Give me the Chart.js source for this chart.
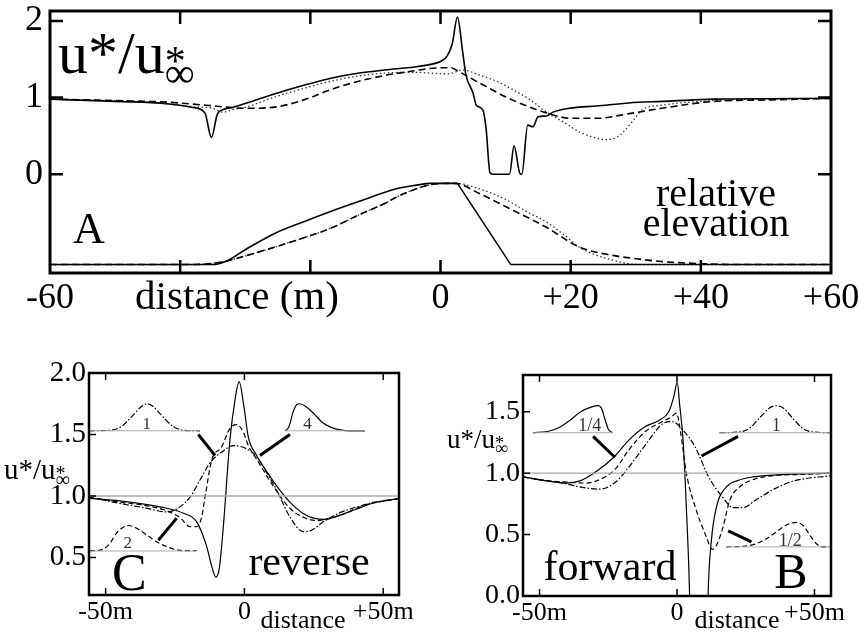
<!DOCTYPE html>
<html>
<head>
<meta charset="utf-8">
<script src="https://cdn.jsdelivr.net/npm/chart.js@4.4.0/dist/chart.umd.min.js"></script>
<style>
  body { margin: 0; background: #fff; width: 860px; height: 633px; overflow: hidden; position: relative; }
  canvas { position: absolute; }
</style>
</head>
<body>
<canvas id="chartA" width="860" height="335" style="left:0;top:0"></canvas>
<canvas id="chartC" width="430" height="293" style="left:0;top:340px"></canvas>
<canvas id="chartB" width="430" height="293" style="left:430px;top:340px"></canvas>
<script>
// ---- Panel A: u*/u*inf over three dune shapes (top) and their relative elevation (bottom)
const aTicksX = [-60, -40, -20, 0, 20, 40, 60];
const aTickLabelsX = ['-60', '', '', '0', '+20', '+40', '+60'];
const aTicksY = [0, 1, 2];
const aTickLabelsY = ['0', '1', '2'];

const aSolid = [[-60,0.98],[-50,0.95],[-42,0.92],[-38,0.87],[-36.2,0.8],[-35.2,0.48],[-34.3,0.78],[-33.5,0.84],[-32,0.87],
  [-29,0.95],[-25.4,1.05],[-21,1.16],[-17,1.25],[-12.5,1.32],[-8.5,1.36],[-4,1.4],[-1.7,1.43],[0,1.47],[1,1.54],[1.8,1.7],
  [2.6,2.05],[3.4,1.6],[3.9,1.3],[5,1.06],[5.5,0.9],[6.5,0.84],[7,0.6],[7.6,0.02],[8,0],[10.6,0],[11.3,0.37],[12.2,0.01],
  [12.5,0],[13.4,0.64],[14.2,0.62],[15,0.75],[16.3,0.76],[17.3,0.81],[19.8,0.86],[24,0.89],[29,0.93],[34,0.95],[42,0.98],[60,0.99]];
const aDashed = [[-60,0.98],[-50,0.96],[-42,0.94],[-36,0.9],[-30,0.86],[-26,0.87],[-21,0.97],[-17,1.1],[-12.7,1.21],[-8.5,1.29],
  [-4,1.35],[-1.7,1.38],[1.5,1.39],[3,1.33],[6,1.19],[11,0.97],[16.3,0.8],[20,0.73],[24,0.73],[29,0.79],[34,0.86],[42,0.95],[51,0.97],[60,0.99]];
const aDotted = [[-60,0.98],[-45,0.94],[-38,0.88],[-35,0.86],[-33.5,0.81],[-32,0.84],[-29.7,0.88],[-25.4,1.01],[-21,1.12],[-17,1.21],
  [-12.7,1.28],[-8.5,1.32],[-4,1.33],[-1.7,1.32],[1.3,1.31],[3.4,1.36],[6.1,1.29],[8.7,1.21],[11.2,1.1],[13.8,0.97],[16.3,0.81],
  [18.9,0.68],[21.4,0.55],[24,0.47],[25.5,0.45],[27.6,0.51],[28.6,0.6],[29.7,0.71],[31,0.84],[34,0.9],[42,0.96],[60,0.99]];

// elevation profiles, already in the plotted units (baseline -1.18, crest -0.12)
const elevSolid = [[-60,-1.18],[-35,-1.18],[-33,-1.14],[-29.7,-0.97],[-25.4,-0.77],[-21,-0.62],[-17,-0.49],[-12,-0.34],
  [-6.8,-0.19],[-3.4,-0.14],[-1.7,-0.12],[2.6,-0.12]];
const elevSolidLee = [[2.6,-0.12],[10.8,-1.18],[60,-1.18]];
const elevDashed = [[-60,-1.18],[-38,-1.18],[-33.9,-1.15],[-29.7,-1.06],[-25.4,-0.95],[-21,-0.83],[-17,-0.71],[-12,-0.51],
  [-8.5,-0.38],[-6.8,-0.3],[-1.7,-0.14],[1,-0.12],[2.3,-0.12],[5.9,-0.25],[11.1,-0.47],[16.2,-0.69],[21.3,-0.95],[26.4,-1.06],
  [29.7,-1.1],[33.9,-1.14],[40.7,-1.17],[45,-1.18],[60,-1.18]];
const elevDotted = [[-60,-1.18],[-38,-1.18],[-33.9,-1.15],[-29.7,-1.06],[-25.4,-0.95],[-21,-0.83],[-17,-0.71],[-12,-0.51],
  [-8.5,-0.38],[-6.8,-0.3],[-1.7,-0.14],[1,-0.12],[2.3,-0.12],[4,-0.14],[5.9,-0.19],[8.5,-0.27],[11.1,-0.38],[13.5,-0.5],
  [16.2,-0.62],[18.8,-0.78],[21.3,-0.95],[24,-1.06],[26.4,-1.12],[29,-1.17],[31,-1.18],[60,-1.18]];

// ---- Panel C: reverse
const smallTicksX = [-50, 0, 50];
const smallTickLabelsX = ['-50m', '0', '+50m'];
const cTicksY = [0.5, 1.0, 1.5, 2.0];
const bTicksY = [0.0, 0.5, 1.0, 1.5];

const cSolid = [[-56,0.98],[-45,0.96],[-35,0.93],[-28,0.9],[-22,0.86],[-17.2,0.79],[-13.6,0.59],[-11.8,0.43],[-10.3,0.34],
  [-9,0.42],[-7.6,0.75],[-5.2,1.46],[-3.4,1.78],[-1.9,1.93],[-0.2,1.73],[1.4,1.48],[4.4,1.33],[8,1.2],[12,1.07],[16.4,0.95],
  [21,0.86],[25,0.82],[29,0.81],[34,0.84],[40,0.89],[46,0.94],[56,0.98]];
const cDashed = [[-56,0.99],[-45,0.95],[-35,0.92],[-28,0.88],[-23,0.82],[-19.6,0.75],[-17.2,0.75],[-15.5,0.82],[-14.2,0.99],
  [-11.8,1.29],[-8.2,1.4],[-5.2,1.55],[-2.8,1.58],[-0.4,1.52],[1.4,1.41],[4.4,1.3],[10.4,1.08],[16.4,0.9],[21,0.83],[26,0.8],
  [29,0.81],[34,0.84],[44,0.93],[56,0.98]];
const cDashDot = [[-56,0.99],[-45,0.94],[-35,0.9],[-28,0.87],[-24,0.9],[-19.6,0.99],[-16,1.13],[-12.4,1.27],[-8,1.36],[-4,1.41],
  [-1,1.4],[1,1.38],[4.4,1.32],[8,1.19],[11.6,1.05],[16.4,0.83],[21.2,0.71],[24,0.72],[28.4,0.79],[34,0.86],[40.4,0.91],[47,0.95],[56,0.98]];
const cInset1 = [[-56,1.53],[-48,1.535],[-44,1.57],[-40,1.66],[-37,1.73],[-35.2,1.75],[-33,1.73],[-30,1.66],[-26,1.57],[-22,1.535],[-16,1.53]];
const cInset4 = [[14.6,1.53],[16,1.56],[17.5,1.68],[19,1.745],[20,1.75],[22,1.73],[25,1.67],[28,1.6],[31,1.56],[35,1.535],[38,1.53],[43.4,1.53]];
const cInset2 = [[-55.7,0.555],[-52,0.56],[-49,0.6],[-46,0.7],[-43,0.755],[-41.8,0.76],[-39,0.74],[-35,0.68],[-31,0.62],[-27,0.58],[-24,0.56],[-20,0.555],[-17.2,0.555]];
const cBase1 = [[-56,1.53],[-16,1.53]];
const cBase4 = [[14.6,1.53],[43.4,1.53]];
const cBase2 = [[-56,0.553],[-17,0.553]];
const cArrow1 = [[-16.6,1.5],[-10.6,1.33]];
const cArrow4 = [[16.4,1.5],[5.6,1.33]];
const cArrow2 = [[-31,0.64],[-24.4,0.82]];

// ---- Panel B: forward
const bSolid = [[-56,0.97],[-48,0.94],[-40,0.92],[-35,0.94],[-29.6,1.01],[-23,1.13],[-17.5,1.27],[-11.5,1.38],[-6.6,1.43],[-3,1.5],
  [-1.2,1.62],[0.1,1.74],[1,1.55],[2.2,1.27],[3.4,0.72],[4.6,0],[5,-0.5],[10.9,-0.5],[11.3,0],[12.5,0.45],[14.3,0.72],[18,0.89],
  [22,0.94],[27.6,0.97],[35,0.985],[45,0.995],[56,1.0]];
const bDashed = [[-56,0.97],[-48,0.94],[-41.6,0.93],[-33,0.92],[-27,0.96],[-22.2,1.04],[-17.5,1.19],[-11.5,1.34],[-5.4,1.42],[-2,1.46],
  [-0.2,1.49],[1.2,1.35],[3.4,1.0],[7,0.7],[10.7,0.48],[12.8,0.38],[14.5,0.42],[16.7,0.56],[19.2,0.78],[22.8,0.89],[28,0.95],[35,0.98],[45,0.99],[56,1.0]];
const bDashDot = [[-56,0.97],[-48,0.94],[-41.6,0.92],[-35.6,0.89],[-28.3,0.87],[-22.2,0.93],[-17.5,1.05],[-11.5,1.23],[-5.4,1.4],[-1.8,1.42],
  [1.8,1.36],[6.7,1.21],[11.5,0.97],[16.4,0.81],[20.4,0.72],[24.2,0.72],[28.5,0.78],[37,0.89],[43,0.94],[56,0.98]];
const bInsetQuarter = [[-52.4,1.33],[-47,1.34],[-43,1.37],[-39,1.43],[-35,1.5],[-31,1.54],[-28.7,1.55],[-27.5,1.53],[-26.2,1.44],[-25,1.36],[-23.5,1.33]];
const bInset1 = [[15.5,1.33],[22,1.335],[26,1.36],[30,1.45],[33.5,1.53],[36.1,1.55],[38.7,1.53],[42,1.45],[46,1.36],[50,1.335],[55.9,1.33]];
const bInsetHalf = [[17.9,0.4],[24,0.405],[28,0.42],[32,0.46],[36,0.52],[40,0.58],[43.5,0.6],[46,0.57],[48.5,0.49],[51,0.42],[53,0.4],[55.9,0.4]];
const bBaseQuarter = [[-52.4,1.33],[-23.3,1.33]];
const bBase1 = [[15.5,1.33],[55.9,1.33]];
const bBaseHalf = [[17.9,0.4],[55.9,0.4]];
const bArrowQuarter = [[-30.5,1.3],[-22.6,1.13]];
const bArrow1 = [[22.2,1.3],[8.9,1.14]];
const bArrowHalf = [[27.1,0.44],[18.6,0.53]];

const refLine = [[-60,1.0],[60,1.0]];

const SERIF = '"Liberation Serif", "Times New Roman", serif';
const DASH = [5, 3];
const DASHDOT = [6, 2, 1.5, 2];

const toXY = pts => pts.map(p => ({ x: p[0], y: p[1] }));

function line(pts, opt) {
  return Object.assign({
    data: toXY(pts),
    borderColor: '#000',
    borderWidth: 1.2,
    pointRadius: 0,
    fill: false,
    cubicInterpolationMode: 'monotone'
  }, opt || {});
}

// frame, inward ticks and the text annotations
function framePlugin(cfg) {
  return {
    id: 'frame',
    afterDatasetsDraw(chart) {
      const { ctx, chartArea: a, scales } = chart;
      ctx.save();
      ctx.strokeStyle = '#000';
      ctx.lineWidth = cfg.tickWidth;
      ctx.beginPath();
      scales.x.ticks.forEach(t => {
        const px = scales.x.getPixelForValue(t.value);
        if (px < a.left + 2 || px > a.right - 2) return;
        ctx.moveTo(px, a.top); ctx.lineTo(px, a.top + cfg.tickLen);
        ctx.moveTo(px, a.bottom); ctx.lineTo(px, a.bottom - cfg.tickLen);
      });
      scales.y.ticks.forEach(t => {
        const py = scales.y.getPixelForValue(t.value);
        if (py < a.top + 2 || py > a.bottom - 2) return;
        ctx.moveTo(a.left, py); ctx.lineTo(a.left + cfg.tickLen, py);
        if (cfg.rightTicks) { ctx.moveTo(a.right, py); ctx.lineTo(a.right - cfg.tickLen, py); }
      });
      ctx.stroke();
      ctx.lineWidth = cfg.frameWidth;
      ctx.strokeRect(a.left, a.top, a.right - a.left, a.bottom - a.top);

      ctx.fillStyle = '#000';
      ctx.textBaseline = 'alphabetic';
      (cfg.texts || []).forEach(t => {
        ctx.font = t.size + 'px ' + SERIF;
        ctx.textAlign = t.align || 'left';
        ctx.fillText(t.t, t.x, t.y);
      });
      // u*/u*inf label
      const r = cfg.ratio;
      ctx.textAlign = 'left';
      ctx.font = r.size + 'px ' + SERIF;
      ctx.fillText('u*/u', r.x, r.y);
      const w = ctx.measureText('u*/u').width;
      ctx.font = Math.round(r.size * r.small) + 'px ' + SERIF;
      ctx.fillText('*', r.x + w, r.y + r.size * 0.03);
      ctx.fillText('\u221E', r.x + w, r.y + r.size * 0.24);
      // small inset labels, placed in data units
      ctx.fillStyle = '#333';
      ctx.textAlign = 'center';
      (cfg.dataTexts || []).forEach(t => {
        ctx.font = t.size + 'px ' + SERIF;
        ctx.fillText(t.t, scales.x.getPixelForValue(t.x), scales.y.getPixelForValue(t.y));
      });
      ctx.restore();
    }
  };
}

function axes(o) {
  return {
    x: {
      type: 'linear', min: o.xMin, max: o.xMax,
      afterBuildTicks: s => { s.ticks = o.ticksX.map(v => ({ value: v })); },
      afterFit: s => { s.height = o.xHeight; s.paddingLeft = 0; s.paddingRight = 0; },
      grid: { display: false, drawTicks: false },
      border: { display: false },
      ticks: {
        autoSkip: false, maxRotation: 0, padding: o.xPad, color: '#000',
        font: { family: SERIF, size: o.xFont },
        callback: v => { const i = o.ticksX.indexOf(v); return i < 0 ? '' : o.labelsX[i]; }
      }
    },
    y: {
      type: 'linear', min: o.yMin, max: o.yMax,
      afterBuildTicks: s => { s.ticks = o.ticksY.map(v => ({ value: v })); },
      afterFit: s => { s.width = o.yWidth; s.paddingTop = 0; s.paddingBottom = 0; },
      grid: { display: false, drawTicks: false },
      border: { display: false },
      ticks: {
        autoSkip: false, padding: o.yPad, color: '#000',
        font: { family: SERIF, size: o.yFont },
        callback: v => { const i = o.ticksY.indexOf(v); return i < 0 ? '' : o.labelsY[i]; }
      }
    }
  };
}

const common = {
  responsive: false,
  animation: false,
  plugins: { legend: { display: false }, tooltip: { enabled: false } }
};

// Panel A
new Chart(document.getElementById('chartA'), {
  type: 'line',
  data: {
    datasets: [
      line(aSolid, { borderWidth: 1.6 }),
      line(aDashed, { borderWidth: 1.6, borderDash: [7, 4] }),
      line(aDotted, { borderWidth: 1.3, borderDash: [1.5, 2.5], borderColor: '#333' }),
      line(elevSolid, { borderWidth: 1.6 }),
      line(elevSolidLee, { borderWidth: 1.6, cubicInterpolationMode: 'default', tension: 0 }),
      line(elevDashed, { borderWidth: 1.6, borderDash: [7, 4] }),
      line(elevDotted, { borderWidth: 1.3, borderDash: [1.5, 2.5], borderColor: '#333' })
    ]
  },
  options: Object.assign({}, common, {
    layout: { padding: { top: 11, right: 29, left: 0, bottom: 0 } },
    scales: axes({
      xMin: -60, xMax: 60, ticksX: aTicksX, labelsX: aTickLabelsX, xHeight: 62, xPad: 4, xFont: 36,
      yMin: -1.29, yMax: 2.13, ticksY: aTicksY, labelsY: aTickLabelsY, yWidth: 50, yPad: 7, yFont: 36
    })
  }),
  plugins: [framePlugin({
    tickLen: 13, tickWidth: 2.5, frameWidth: 3, rightTicks: true,
    ratio: { x: 58, y: 73, size: 60, small: 0.7 },
    texts: [
      { t: 'A', x: 73, y: 243, size: 44 },
      { t: 'relative', x: 716, y: 206, size: 40, align: 'center' },
      { t: 'elevation', x: 716, y: 236, size: 40, align: 'center' },
      { t: 'distance (m)', x: 237, y: 309, size: 41, align: 'center' }
    ]
  })]
});

// Panel C (reverse)
new Chart(document.getElementById('chartC'), {
  type: 'line',
  data: {
    datasets: [
      line(refLine, { borderColor: '#aaa', borderWidth: 1.3 }),
      line(cBase1, { borderColor: '#aaa', borderWidth: 1 }),
      line(cBase4, { borderColor: '#aaa', borderWidth: 1 }),
      line(cBase2, { borderColor: '#aaa', borderWidth: 1 }),
      line(cSolid),
      line(cDashed, { borderDash: DASH }),
      line(cDashDot, { borderDash: DASHDOT }),
      line(cInset1, { borderDash: DASHDOT }),
      line(cInset4),
      line(cInset2, { borderDash: DASH }),
      line(cArrow1, { borderWidth: 3 }),
      line(cArrow4, { borderWidth: 3 }),
      line(cArrow2, { borderWidth: 3 })
    ]
  },
  options: Object.assign({}, common, {
    layout: { padding: { top: 33, right: 31, left: 0, bottom: 0 } },
    scales: axes({
      xMin: -56, xMax: 55.7, ticksX: smallTicksX, labelsX: smallTickLabelsX, xHeight: 38, xPad: 2, xFont: 26,
      yMin: 0.195, yMax: 2.0, ticksY: cTicksY, labelsY: ['0.5', '1.0', '1.5', '2.0'], yWidth: 89, yPad: 3, yFont: 29
    })
  }),
  plugins: [framePlugin({
    tickLen: 7, tickWidth: 1.5, frameWidth: 2.5, rightTicks: false,
    ratio: { x: 4, y: 139, size: 29, small: 0.68 },
    texts: [
      { t: 'C', x: 112, y: 250, size: 52 },
      { t: 'reverse', x: 309, y: 235, size: 42, align: 'center' },
      { t: 'distance', x: 303, y: 288, size: 26, align: 'center' }
    ],
    dataTexts: [
      { t: '1', x: -35.2, y: 1.548, size: 17 },
      { t: '4', x: 22.7, y: 1.548, size: 17 },
      { t: '2', x: -42, y: 0.575, size: 17 }
    ]
  })]
});

// Panel B (forward)
new Chart(document.getElementById('chartB'), {
  type: 'line',
  data: {
    datasets: [
      line(refLine, { borderColor: '#aaa', borderWidth: 1.3 }),
      line(bBaseQuarter, { borderColor: '#aaa', borderWidth: 1 }),
      line(bBase1, { borderColor: '#aaa', borderWidth: 1 }),
      line(bBaseHalf, { borderColor: '#aaa', borderWidth: 1 }),
      line(bSolid),
      line(bDashed, { borderDash: DASH }),
      line(bDashDot, { borderDash: DASHDOT }),
      line(bInsetQuarter),
      line(bInset1, { borderDash: DASHDOT }),
      line(bInsetHalf, { borderDash: DASH }),
      line(bArrowQuarter, { borderWidth: 3 }),
      line(bArrow1, { borderWidth: 3 }),
      line(bArrowHalf, { borderWidth: 3 })
    ]
  },
  options: Object.assign({}, common, {
    layout: { padding: { top: 35, right: 29, left: 0, bottom: 0 } },
    scales: axes({
      xMin: -56, xMax: 56, ticksX: smallTicksX, labelsX: smallTickLabelsX, xHeight: 37, xPad: 2, xFont: 26,
      yMin: 0, yMax: 1.8, ticksY: bTicksY, labelsY: ['0.0', '0.5', '1.0', '1.5'], yWidth: 93, yPad: 3, yFont: 28
    })
  }),
  plugins: [framePlugin({
    tickLen: 7, tickWidth: 1.5, frameWidth: 2.5, rightTicks: false,
    ratio: { x: 17, y: 108, size: 27, small: 0.66 },
    texts: [
      { t: 'forward', x: 180, y: 240, size: 42, align: 'center' },
      { t: 'B', x: 361, y: 248, size: 50, align: 'center' },
      { t: 'distance', x: 307, y: 288, size: 26, align: 'center' }
    ],
    dataTexts: [
      { t: '1/4', x: -31.7, y: 1.34, size: 18 },
      { t: '1', x: 36.1, y: 1.34, size: 18 },
      { t: '1/2', x: 41.2, y: 0.41, size: 18 }
    ]
  })]
});
</script>
</body>
</html>
